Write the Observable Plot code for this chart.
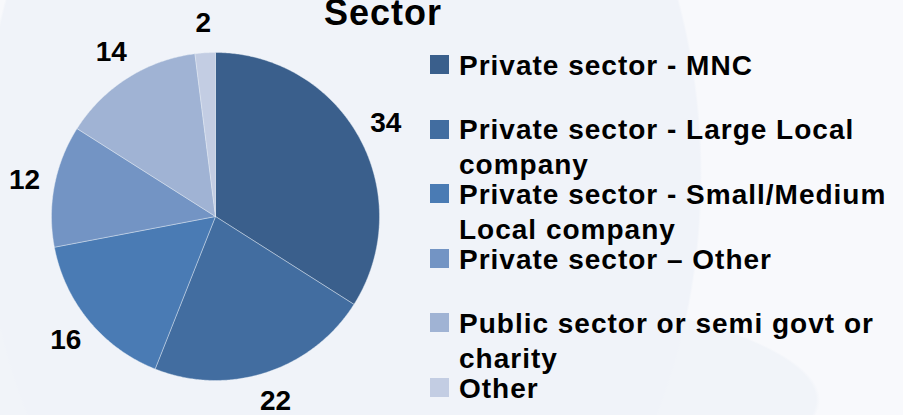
<!DOCTYPE html>
<html>
<head>
<meta charset="utf-8">
<script src="https://cdn.jsdelivr.net/npm/d3@7"></script>
<script src="https://cdn.jsdelivr.net/npm/@observablehq/plot@0.6"></script>
<style>
html, body { margin: 0; padding: 0; }
body { width: 903px; height: 415px; overflow: hidden; font-family: "Liberation Sans", Arial, sans-serif; }
#wrap {
  position: relative; width: 903px; height: 415px; overflow: hidden;
  background:
    radial-gradient(ellipse 360px 500px at 342px 175px, #f0f3f9 99.4%, rgba(248,249,252,0) 100%),
    radial-gradient(ellipse 700px 140px at 120px 400px, #f1f4f9 99.4%, rgba(248,249,252,0) 100%),
    #f8f9fc;
}
#chart { position: absolute; left: 0; top: 0; }
#title {
  position: absolute; left: 283px; top: -5px; width: 200px; text-align: center;
  font-size: 36px; line-height: 36px; font-weight: bold; letter-spacing: 1px; color: #000;
}
.sw { position: absolute; left: 430px; width: 19px; height: 19px; }
.lt {
  position: absolute; left: 459px; width: 440px;
  font-size: 28px; line-height: 35px; font-weight: bold; letter-spacing: 1px; color: #000;
}
</style>
</head>
<body>
<div id="wrap">
  <div id="chart"></div>
  <div id="title"></div>
  <div id="legend"></div>
</div>
<script>
const title = "Sector";
const categories = [
  "Private sector - MNC",
  "Private sector - Large Local company",
  "Private sector - Small/Medium Local company",
  "Private sector \u2013 Other",
  "Public sector or semi govt or charity",
  "Other"
];
const values = [34, 22, 16, 12, 14, 2];
const colors = ["#3a5f8c", "#426da0", "#4a7bb4", "#7394c4", "#a0b3d4", "#c3cde3"];

const rows = categories.map((c, i) => ({category: c, value: values[i]}));
const arcs = d3.pie().sort(null).value(d => d.value)(rows);

// slice outlines (unit circle, clockwise from 12 o'clock)
const pts = [];
for (const a of arcs) {
  const n = Math.max(2, Math.ceil((a.endAngle - a.startAngle) / (Math.PI / 360)));
  pts.push({category: a.data.category, x: 0, y: 0});
  for (let k = 0; k <= n; k++) {
    const t = a.startAngle + (a.endAngle - a.startAngle) * k / n;
    pts.push({category: a.data.category, x: Math.sin(t), y: Math.cos(t)});
  }
  pts.push({category: a.data.category, x: 0, y: 0});
}
const labelR = 1.185;
const labels = arcs.map(a => {
  const m = (a.startAngle + a.endAngle) / 2;
  return {text: String(a.data.value), x: labelR * Math.sin(m), y: labelR * Math.cos(m)};
});

const plot = Plot.plot({
  width: 903,
  height: 415,
  style: {background: "transparent", fontFamily: "Liberation Sans, Arial, sans-serif", overflow: "visible"},
  x: {domain: [-1, 1], range: [51, 379], axis: null},
  y: {domain: [-1, 1], range: [380, 52], axis: null},
  color: {domain: categories, range: colors},
  marks: [
    Plot.line(pts, {x: "x", y: "y", z: "category", fill: "category", stroke: "#e8eef6", strokeWidth: 0.6, strokeOpacity: 0.7, curve: "linear"}),
    Plot.text(labels, {x: "x", y: "y", text: "text", fontSize: 28, fontWeight: "bold", fill: "#000"})
  ]
});
document.getElementById("chart").appendChild(plot);
document.getElementById("title").textContent = title;

const legend = document.getElementById("legend");
categories.forEach((c, i) => {
  const step = 64.6;
  const sw = document.createElement("div");
  sw.className = "sw";
  sw.style.top = (55 + i * step) + "px";
  sw.style.background = colors[i];
  const lt = document.createElement("div");
  lt.className = "lt";
  lt.style.top = (47.8 + i * step) + "px";
  lt.textContent = c;
  legend.appendChild(sw);
  legend.appendChild(lt);
});
</script>
</body>
</html>
